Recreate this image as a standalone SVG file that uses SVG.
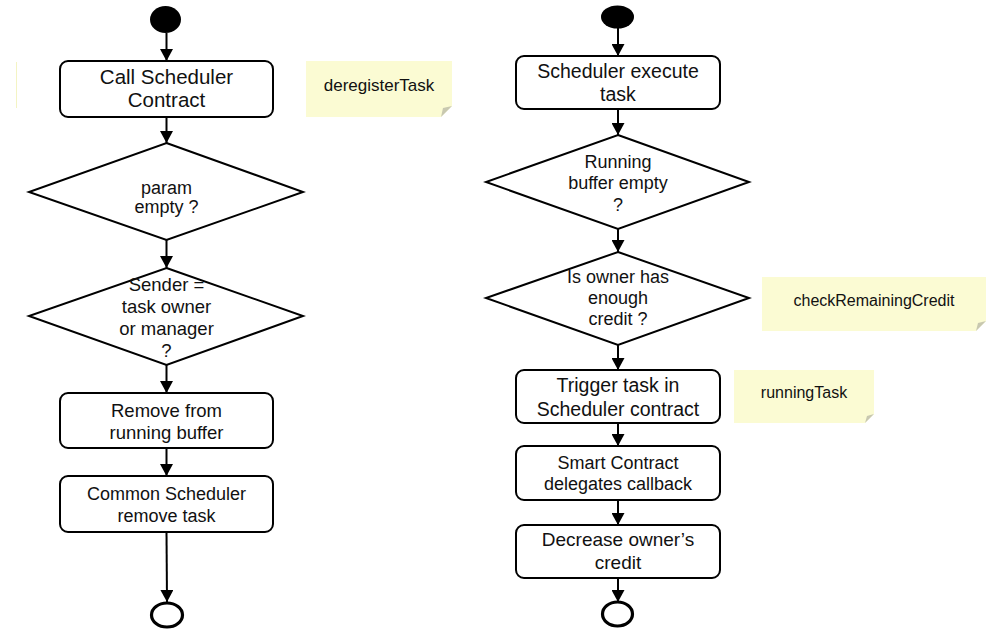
<svg xmlns="http://www.w3.org/2000/svg" width="993" height="635" viewBox="0 0 993 635">
<defs>
<marker id="arr" markerUnits="userSpaceOnUse" markerWidth="12" markerHeight="13" refX="12" refY="6.5" orient="auto">
<path d="M0,0 L12,6.5 L0,13 z" fill="#000"/>
</marker>
<style>
.box{fill:#fff;stroke:#000;stroke-width:2}
.dia{fill:#fff;stroke:#000;stroke-width:2}
.note{fill:#FBFBD3;stroke:none}
.fold{fill:#C8C8B0}
.start{fill:#000}
.end{fill:#fff;stroke:#000;stroke-width:3.2}
.t{font-family:"Liberation Sans",Arial,sans-serif;fill:#111;text-anchor:middle}
.conn line{stroke:#000;stroke-width:2;marker-end:url(#arr)}
</style>
</defs>
<rect width="993" height="635" fill="#fff"/>
<line x1="16.5" y1="62" x2="16.5" y2="108" stroke="#F4F4C4" stroke-width="1"/>

<g id="connectors" class="conn">
<line x1="166.5" y1="33" x2="166.5" y2="61"/>
<line x1="166.5" y1="117" x2="166.5" y2="143"/>
<line x1="166.5" y1="240" x2="166.5" y2="268"/>
<line x1="166.5" y1="365" x2="166.5" y2="393"/>
<line x1="166.5" y1="448" x2="166.5" y2="476"/>
<line x1="166.5" y1="532" x2="167" y2="602"/>
<line x1="618" y1="28" x2="618" y2="56"/>
<line x1="618" y1="109" x2="618" y2="135"/>
<line x1="618" y1="229" x2="618" y2="252"/>
<line x1="618" y1="345" x2="618" y2="370"/>
<line x1="618" y1="423" x2="618" y2="446"/>
<line x1="618" y1="500" x2="618" y2="525"/>
<line x1="618" y1="578" x2="618" y2="602"/>
</g>

<g id="start-left"><ellipse class="start" cx="165.5" cy="19.5" rx="15.5" ry="13.5"/></g>
<g id="call-scheduler">
<rect class="box" x="60" y="61" width="213" height="56" rx="8"/>
<text class="t" font-size="20.5" x="166.5" y="84">Call Scheduler</text>
<text class="t" font-size="20.5" x="166.5" y="107">Contract</text>
</g>
<g id="note-deregister">
<path class="note" d="M306,61 H452 V106 L441,117 H306 Z"/>
<path class="fold" d="M452,106 L441,117 L443,108 Z"/>
<text class="t" font-size="17" x="379" y="91">deregisterTask</text>
</g>
<g id="param-empty">
<polygon class="dia" points="166.5,143 303,192 166.5,240 29,192"/>
<text class="t" font-size="18" x="166.5" y="194">param</text>
<text class="t" font-size="18" x="166.5" y="213">empty ?</text>
</g>
<g id="sender-check">
<polygon class="dia" points="166.5,268 303,316 166.5,365 29,316"/>
<text class="t" font-size="18.5" x="166.5" y="291">Sender =</text>
<text class="t" font-size="18.5" x="166.5" y="313">task owner</text>
<text class="t" font-size="18.5" x="166.5" y="335">or manager</text>
<text class="t" font-size="18.5" x="166.5" y="357">?</text>
</g>
<g id="remove-buffer">
<rect class="box" x="60" y="393" width="213" height="55" rx="8"/>
<text class="t" font-size="18.5" x="166.5" y="417">Remove from</text>
<text class="t" font-size="18.5" x="166.5" y="439">running buffer</text>
</g>
<g id="common-remove">
<rect class="box" x="60" y="476" width="213" height="56" rx="8"/>
<text class="t" font-size="18" x="166.5" y="500">Common Scheduler</text>
<text class="t" font-size="18" x="166.5" y="522">remove task</text>
</g>
<g id="end-left"><ellipse class="end" cx="167" cy="615" rx="15.5" ry="12"/></g>

<g id="start-right"><ellipse class="start" cx="617.5" cy="17" rx="16.5" ry="11.5"/></g>
<g id="scheduler-execute">
<rect class="box" x="516" y="56" width="204" height="53" rx="8"/>
<text class="t" font-size="19.5" x="618" y="78">Scheduler execute</text>
<text class="t" font-size="19.5" x="618" y="101">task</text>
</g>
<g id="running-empty">
<polygon class="dia" points="618,135 749,182 618,229 486,182"/>
<text class="t" font-size="18" x="618" y="168">Running</text>
<text class="t" font-size="18" x="618" y="189">buffer empty</text>
<text class="t" font-size="18" x="618" y="211">?</text>
</g>
<g id="owner-credit">
<polygon class="dia" points="618,252 749,298 618,345 486,298"/>
<text class="t" font-size="18" x="618" y="283">Is owner has</text>
<text class="t" font-size="18" x="618" y="304">enough</text>
<text class="t" font-size="18" x="618" y="325">credit ?</text>
</g>
<g id="note-check">
<path class="note" d="M762,277 H986 V321 L976,331 H762 Z"/>
<path class="fold" d="M986,321 L976,331 L978,323 Z"/>
<text class="t" font-size="16" x="874" y="306">checkRemainingCredit</text>
</g>
<g id="trigger-task">
<rect class="box" x="516" y="370" width="204" height="53" rx="8"/>
<text class="t" font-size="19.5" x="618" y="392">Trigger task in</text>
<text class="t" font-size="19.5" x="618" y="416">Scheduler contract</text>
</g>
<g id="note-running">
<path class="note" d="M734,370 H874 V414 L865,423 H734 Z"/>
<path class="fold" d="M874,414 L865,423 L867,416 Z"/>
<text class="t" font-size="16" x="804" y="398">runningTask</text>
</g>
<g id="delegate-callback">
<rect class="box" x="516" y="446" width="204" height="54" rx="8"/>
<text class="t" font-size="18" x="618" y="469">Smart Contract</text>
<text class="t" font-size="18" x="618" y="490">delegates callback</text>
</g>
<g id="decrease-credit">
<rect class="box" x="516" y="525" width="204" height="53" rx="8"/>
<text class="t" font-size="19" x="618" y="546">Decrease owner’s</text>
<text class="t" font-size="19" x="618" y="569">credit</text>
</g>
<g id="end-right"><ellipse class="end" cx="617.5" cy="614" rx="15" ry="12"/></g>
</svg>
